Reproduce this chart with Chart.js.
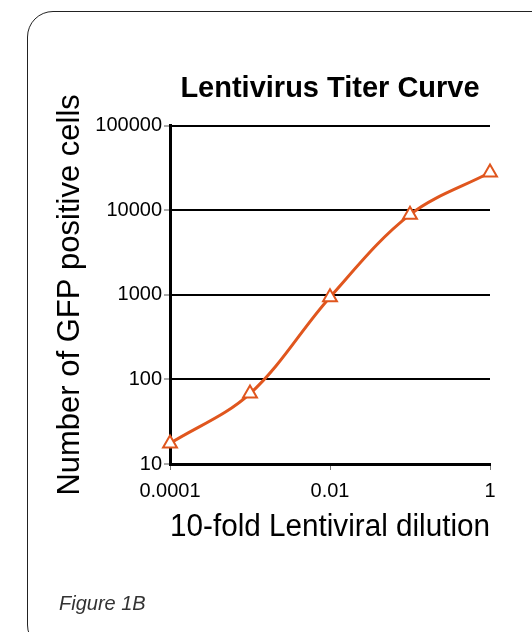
<!DOCTYPE html>
<html>
<head>
<meta charset="utf-8">
<script src="https://cdn.jsdelivr.net/npm/chart.js@4"></script>
<style>
  html, body { margin: 0; padding: 0; background: #fff; overflow: hidden; }
  #wrap { position: relative; width: 532px; height: 632px; }
  #frame {
    position: absolute; left: 27px; top: 11px; width: 560px; height: 640px;
    border: 1.5px solid #222; border-radius: 26px; box-sizing: border-box;
  }
  #fig {
    position: absolute; left: 59px; top: 592px;
    font: italic 20px "Liberation Sans", Arial, sans-serif; color: #333;
  }
  canvas { position: absolute; left: 0; top: 0; }
</style>
</head>
<body>
<div id="wrap">
  <div id="frame"></div>
  <canvas id="titerChart" width="532" height="632"></canvas>
  <div id="fig">Figure 1B</div>
</div>
<script>
// data
const dilutions = [0.0001, 0.001, 0.01, 0.1, 1]
const gfpCells = [17.5, 68, 940, 8900, 28000]

// axis ticks
const xTicks = [0.0001, 0.01, 1]
const xTickLabels = ['0.0001', '0.01', '1']
const yTicks = [10, 100, 1000, 10000, 100000]
const yTickLabels = ['10', '100', '1000', '10000', '100000']

const orange = '#E0561E'
const font = '"Liberation Sans", Arial, sans-serif'

let points = dilutions.map((d, i) => ({ x: d, y: gfpCells[i] }))

new Chart(document.getElementById('titerChart'), {
    type: 'line',
    data: {
        datasets: [{
            label: 'GFP positive cells',
            data: points,
            borderColor: orange,
            borderWidth: 3,
            tension: 0.35,
            pointStyle: 'triangle',
            pointRadius: 8,
            pointBorderWidth: 2,
            pointBorderColor: orange,
            pointBackgroundColor: '#fff',
            clip: false
        }]
    },
    options: {
        responsive: false,
        animation: false,
        layout: { padding: { left: 52, right: 42, top: 0, bottom: 73 } },
        plugins: {
            legend: { display: false },
            tooltip: { enabled: false },
            title: {
                display: true,
                text: 'Lentivirus Titer Curve',
                fullSize: false,
                color: '#000',
                font: { family: font, size: 29, weight: 'bold' },
                padding: { top: 72, bottom: 19 }
            }
        },
        scales: {
            x: {
                type: 'logarithmic',
                min: 0.0001,
                max: 1,
                afterBuildTicks: s => { s.ticks = xTicks.map(v => ({ value: v })) },
                afterFit: s => { s.height = 95 },
                ticks: {
                    color: '#000',
                    font: { family: font, size: 20 },
                    padding: 9,
                    maxRotation: 0,
                    autoSkip: false,
                    callback: (v, i) => xTickLabels[i]
                },
                grid: { drawOnChartArea: false, tickLength: 6, tickColor: '#777', tickWidth: 1 },
                border: { color: '#000', width: 3 },
                title: {
                    display: true,
                    text: '10-fold Lentiviral dilution',
                    color: '#000',
                    font: { family: font, size: 31 },
                    padding: { top: 0, bottom: 13 }
                }
            },
            y: {
                type: 'logarithmic',
                min: 10,
                max: 100000,
                afterBuildTicks: s => { s.ticks = yTicks.map(v => ({ value: v })) },
                afterFit: s => { s.width = 118 },
                ticks: {
                    color: '#000',
                    font: { family: font, size: 20 },
                    padding: 2,
                    autoSkip: false,
                    callback: (v, i) => yTickLabels[i]
                },
                grid: { color: '#000', lineWidth: 2, tickLength: 6, tickColor: '#555', tickWidth: 1 },
                border: { color: '#000', width: 3 },
                title: {
                    display: true,
                    text: 'Number of GFP positive cells',
                    color: '#000',
                    font: { family: font, size: 31 },
                    padding: { top: 0, bottom: 0 }
                }
            }
        }
    }
})
</script>
</body>
</html>
